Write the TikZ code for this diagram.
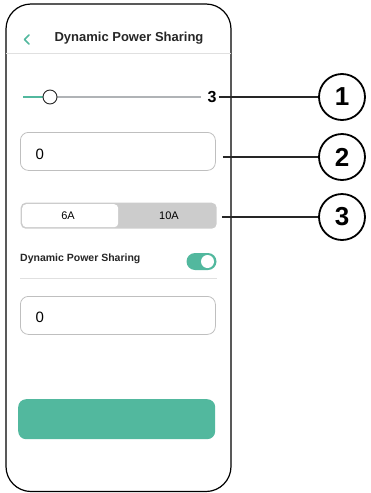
\documentclass[tikz,border=0pt]{standalone}
\usepackage{fontspec}
\setmainfont{Liberation Sans}
\begin{document}
\begin{tikzpicture}[x=1pt,y=-1pt,
  field/.style={draw=black!25,line width=0.8pt,rounded corners=8pt},
  callout/.style={circle,draw=black,line width=1.8pt,minimum size=46pt,inner sep=0pt,font=\bfseries\fontsize{26}{26}\selectfont},
  lead/.style={draw=black!85,line width=1.7pt},
]
\definecolor{mint}{HTML}{52B89E}
\definecolor{track}{HTML}{B0B3B6}
\definecolor{segbg}{HTML}{CCCCCC}
\useasboundingbox (0,0) rectangle (371,493);

% phone frame
\draw[line width=1.2pt,rounded corners=25pt] (6,4) rectangle (231,491.5);

% header
\coordinate (back) at (24.5,39.5);
\draw[mint,line width=1.7pt,line cap=round,line join=round] ([shift={(4.5,-4.5)}]back) -- (back) -- ([shift={(4.5,4.5)}]back);
\node[font=\bfseries\fontsize{13}{13}\selectfont,text=black!85] (title) at (129,38) {Dynamic Power Sharing};
\draw[black!12,line width=0.8pt] (6,53) -- (231,53);

% slider
\draw[mint,line width=2.2pt] (23,97) -- (44,97);
\draw[track,line width=2.2pt] (57,97) -- (201,97);
\node[circle,draw=black!85,fill=white,line width=0.9pt,minimum size=14pt,inner sep=0pt] (knob) at (50,97) {};
\node[font=\bfseries\fontsize{16}{16}\selectfont,inner sep=2pt] (val) at (212,97) {3};

% first input field
\node[field,minimum width=195pt,minimum height=38pt,anchor=north west,inner sep=0pt] (box1) at (20,132) {};
\node[font=\fontsize{15}{15}\selectfont,anchor=west] (zero1) at (32,154) {0};

% segmented control
\node[fill=segbg,rounded corners=5pt,minimum width=196pt,minimum height=26pt,anchor=north west,inner sep=0pt] (seg) at (20.5,202.5) {};
\node[fill=white,rounded corners=4pt,minimum width=96pt,minimum height=23pt,anchor=north west,inner sep=0pt] (segl) at (22,204) {};
\node[font=\fontsize{11}{11}\selectfont] (sixA) at (68,216) {6A};
\node[font=\fontsize{11}{11}\selectfont] (tenA) at (169,216) {10A};

% toggle row
\node[font=\bfseries\fontsize{10.5}{10.5}\selectfont,anchor=west,inner sep=0pt,text=black!85] (dps) at (20,258.5) {Dynamic Power Sharing};
\node[fill=mint,rounded corners=8.5pt,minimum width=30pt,minimum height=17pt,inner sep=0pt] (toggle) at (201.5,261.5) {};
\node[circle,fill=white,minimum size=13pt,inner sep=0pt] (tknob) at (207.5,261.5) {};
\draw[black!12,line width=0.8pt] (20,278) -- (217,278);

% second input field
\node[field,minimum width=195pt,minimum height=38pt,anchor=north west,inner sep=0pt] (box2) at (20,296) {};
\node[font=\fontsize{15}{15}\selectfont,anchor=west] (zero2) at (32,317.5) {0};

% action button
\node[fill=mint,rounded corners=8pt,minimum width=197pt,minimum height=40pt,anchor=north west,inner sep=0pt] (btn) at (18,399) {};

% callouts
\node[callout] (c1) at (342,97) {1};
\node[callout] (c2) at (342,157) {2};
\node[callout] (c3) at (342,217) {3};
\draw[lead] (val.east) -- (c1.west);
\draw[lead,shorten <=7pt] (box1.east |- c2.west) -- (c2.west);
\draw[lead,shorten <=5pt] (seg.east |- c3.west) -- (c3.west);
\end{tikzpicture}
\end{document}
